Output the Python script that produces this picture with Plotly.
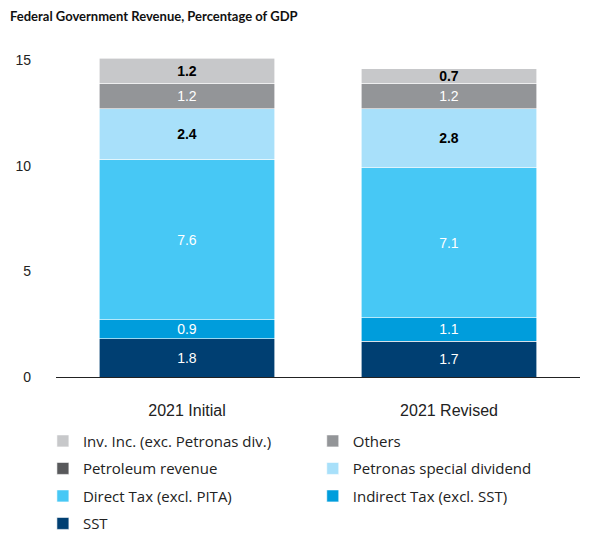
import plotly.graph_objects as go

categories = ["2021 Initial", "2021 Revised"]
series_names = ["SST", "Indirect Tax (excl. SST)", "Direct Tax (excl. PITA)",
                "Petronas special dividend", "Petroleum revenue", "Others",
                "Inv. Inc. (exc. Petronas div.)"]
sst = [1.8, 1.7]
indirect = [0.9, 1.1]
direct = [7.6, 7.1]
petronas = [2.4, 2.8]
petroleum = [0.0, 0.0]
others = [1.2, 1.2]
inv_inc = [1.2, 0.7]
y_ticks = [0, 5, 10, 15]

values = [sst, indirect, direct, petronas, petroleum, others, inv_inc]
colors = ["#003f72", "#009ddc", "#47c8f5", "#a8e0fa", "#58595b", "#939598", "#c7c8ca"]
text_colors = ["white", "white", "white", "black", "white", "white", "black"]
text_bold = [False, False, False, True, False, False, True]
# legend layout: two columns, reading order left-to-right, top-to-bottom
legend_ids = ["legend", "legend2", "legend", "legend2", "legend", "legend2", "legend"]
legend_ranks = [4, 3, 3, 2, 2, 1, 1]

fig = go.Figure()
for i, (name, vals, col, tcol, bold) in enumerate(zip(series_names, values, colors, text_colors, text_bold)):
    txt = [("<b>%.1f</b>" % v if bold else "%.1f" % v) if v > 0 else "" for v in vals]
    fig.add_trace(go.Bar(
        x=categories, y=vals, name=name,
        marker=dict(color=col, line=dict(color="white", width=0.6)),
        text=txt, textposition="inside", insidetextanchor="middle",
        textfont=dict(color=tcol, size=14, family="Liberation Sans"),
        textangle=0, hoverinfo="skip", constraintext="none",
        legend=legend_ids[i], legendrank=legend_ranks[i], legendgroup=name,
    ))

legend_style = dict(orientation="v", yanchor="top", traceorder="grouped",
                    tracegroupgap=5, itemclick=False, bgcolor="rgba(0,0,0,0)",
                    font=dict(size=15, color="#222", family="Open Sans"))

fig.update_layout(
    barmode="stack",
    bargap=0.33,
    width=589, height=533,
    margin=dict(l=56, r=9, t=39, b=156, autoexpand=False),
    paper_bgcolor="white", plot_bgcolor="white",
    title=dict(text="<b>Federal Government Revenue, Percentage of GDP</b>",
               x=0.017, xanchor="left", y=0.97, yanchor="middle",
               font=dict(size=13, color="#111", family="Lato")),
    legend=dict(x=-0.025, y=-0.141, **legend_style),
    legend2=dict(x=0.49, y=-0.141, **legend_style),
    showlegend=True,
)
fig.update_xaxes(showline=True, linecolor="#222", linewidth=1.2, ticks="",
                 ticklabelstandoff=19, automargin=False,
                 tickfont=dict(size=16, color="#222", family="Liberation Sans"))
fig.update_yaxes(range=[0, 16], tickvals=y_ticks, showgrid=False, zeroline=False,
                 showline=False, ticks="", ticklabelstandoff=24, automargin=False,
                 tickfont=dict(size=14, color="#222", family="Liberation Sans"))

fig.write_html("out.html", config={"displayModeBar": False},
               post_script="document.body.style.margin='0';")
